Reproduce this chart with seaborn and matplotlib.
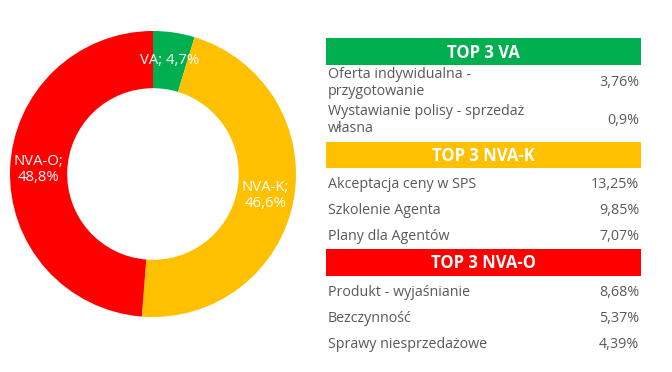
# Donut of VA / NVA-K / NVA-O shares with TOP 3 tables on the right
import matplotlib
matplotlib.use('Agg')
import matplotlib.pyplot as plt
from matplotlib.patches import Rectangle
import seaborn as sns

# Data
categories = ['VA', 'NVA-K', 'NVA-O']
shares = [4.7, 46.6, 48.8]
share_labels = ['VA; 4,7%', 'NVA-K;\n46,6%', 'NVA-O;\n48,8%']

top_titles = ['TOP 3 VA', 'TOP 3 NVA-K', 'TOP 3 NVA-O']
va_items = ['Oferta indywidualna -\nprzygotowanie', 'Wystawianie polisy - sprzedaż\nwłasna']
va_values = ['3,76%', '0,9%']
nvak_items = ['Akceptacja ceny w SPS', 'Szkolenie Agenta', 'Plany dla Agentów']
nvak_values = ['13,25%', '9,85%', '7,07%']
nvao_items = ['Produkt - wyjaśnianie', 'Bezczynność', 'Sprawy niesprzedażowe']
nvao_values = ['8,68%', '5,37%', '4,39%']

colors = ['#00B050', '#FFC000', '#FF0000']

sns.set_theme(style='white')
plt.rcParams['font.family'] = ['Open Sans', 'DejaVu Sans']

W, H = 672, 372
fig = plt.figure(figsize=(W / 100, H / 100), dpi=100)

# Donut
cx, cy, r = 153, 174, 143
ax = fig.add_axes([(cx - r) / W, (H - cy - r) / H, 2 * r / W, 2 * r / H])
wedges, texts = ax.pie(shares, colors=colors, startangle=90, counterclock=False,
                       labels=share_labels, labeldistance=0.8,
                       wedgeprops=dict(width=0.4, edgecolor='none'),
                       textprops=dict(color='white', fontsize=10.7, ha='center', va='center',
                                      linespacing=1.05))
ax.set_xlim(-1, 1)
ax.set_ylim(-1, 1)
ax.set_aspect('equal')

# Tables on a pixel-coordinate axis
tx = fig.add_axes([0, 0, 1, 1])
tx.set_xlim(0, W)
tx.set_ylim(H, 0)
tx.axis('off')

x0, x1 = 326, 641
text_color = '#595959'
sections = [
    (top_titles[0], colors[0], 38, 65, va_items, va_values, [83, 120]),
    (top_titles[1], colors[1], 142, 168, nvak_items, nvak_values, [184, 211, 237]),
    (top_titles[2], colors[2], 249, 276, nvao_items, nvao_values, [292, 318, 345]),
]
for title, col, top, bottom, items, values, ys in sections:
    tx.add_patch(Rectangle((x0, top), x1 - x0, bottom - top, color=col, lw=0))
    tx.text((x0 + x1) / 2, (top + bottom) / 2 + 1, title, color='white', fontsize=12,
            fontweight='bold', ha='center', va='center')
    for item, val, y in zip(items, values, ys):
        tx.text(x0 + 2, y, item, color=text_color, fontsize=10.3, ha='left', va='center',
                linespacing=1.1)
        tx.text(x1 - 2, y, val, color=text_color, fontsize=10.3, ha='right', va='center')

fig.savefig('out.png', dpi=100, facecolor='white')
